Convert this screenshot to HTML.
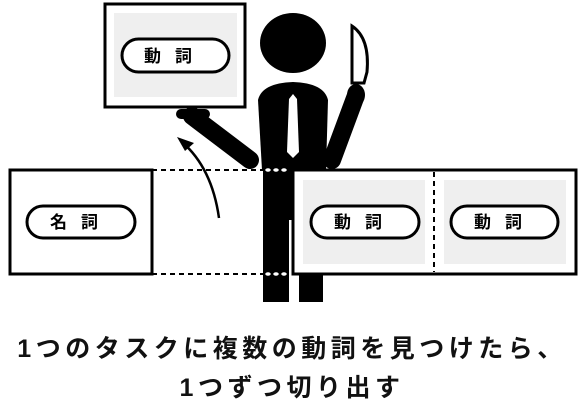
<!DOCTYPE html>
<html><head><meta charset="utf-8"><style>
html,body{margin:0;padding:0;background:#fff}
#wrap{position:relative;width:584px;height:410px;overflow:hidden}
svg{position:absolute;left:0;top:0}
.cap{position:absolute;left:0;width:584px;text-align:center;font-family:"Liberation Sans","Noto Sans CJK JP",sans-serif;font-weight:bold;font-size:25px;line-height:30px;letter-spacing:4.5px;color:#111;white-space:nowrap}
</style></head><body>
<div id="wrap">
<svg width="584" height="410" viewBox="0 0 584 410" font-family="Liberation Sans, Noto Sans CJK JP, sans-serif">
  <g stroke="#000" stroke-width="2" stroke-dasharray="5,4">
    <line x1="152" y1="170" x2="264" y2="170"/>
    <line x1="152" y1="274" x2="264" y2="274"/>
  </g>
  <g fill="#000">
    <ellipse cx="293" cy="43" rx="33" ry="30"/>
    <path d="M258,100 Q262,83 293,82 Q324,83 328,100 L326,170 L262,170 Z"/>
    <line x1="192" y1="116" x2="250" y2="160" stroke="#000" stroke-width="18" stroke-linecap="round"/>
    <line x1="332" y1="160" x2="355" y2="98" stroke="#000" stroke-width="18" stroke-linecap="round"/>
    <rect x="176" y="109" width="34" height="10" rx="5"/>
    <ellipse cx="356" cy="95" rx="9" ry="11"/>
    <path d="M352,83 L352,26 Q370,38 367,72 L364,83 Z" fill="#fff" stroke="#000" stroke-width="3"/>
    <path d="M293,94 L297,99 L299,152 L293,158 L287,152 L289,99 Z" fill="#fff"/>
    <rect x="263" y="168" width="60" height="52"/>
    <rect x="263" y="218" width="26" height="84"/>
    <rect x="299" y="218" width="24" height="84"/>
  </g>
  <g fill="#fff" stroke="#000" stroke-width="1.5">
    <ellipse cx="268" cy="170" rx="3.5" ry="2.5"/><ellipse cx="276" cy="170" rx="3.5" ry="2.5"/><ellipse cx="284" cy="170" rx="3.5" ry="2.5"/>
    <ellipse cx="268" cy="274" rx="3.5" ry="2.5"/><ellipse cx="276" cy="274" rx="3.5" ry="2.5"/><ellipse cx="284" cy="274" rx="3.5" ry="2.5"/>
  </g>
  <g>
    <rect x="105" y="4" width="140" height="103" fill="#fff" stroke="#000" stroke-width="3"/>
    <rect x="114" y="13" width="123" height="84" fill="#efefef"/>
    <rect x="122" y="39" width="107" height="33" rx="16.5" fill="#fff" stroke="#000" stroke-width="3"/>
    <text x="175" y="62" text-anchor="middle" font-size="17" font-weight="bold" letter-spacing="14">動詞</text>
  </g>
  <g>
    <path d="M219,218 Q212,168 182,142" fill="none" stroke="#000" stroke-width="2.5"/>
    <path d="M177,137 L194,143 L185,151 Z" fill="#000"/>
  </g>
  <g>
    <rect x="10" y="170" width="142" height="104" fill="#fff" stroke="#000" stroke-width="3"/>
    <rect x="27" y="206" width="108" height="32" rx="16" fill="#fff" stroke="#000" stroke-width="3"/>
    <text x="81" y="228" text-anchor="middle" font-size="17" font-weight="bold" letter-spacing="14">名詞</text>
  </g>
  <g>
    <rect x="293" y="170" width="283" height="104" fill="#fff" stroke="#000" stroke-width="3"/>
    <rect x="303" y="180" width="122" height="84" fill="#efefef"/>
    <rect x="444" y="180" width="122" height="84" fill="#efefef"/>
    <line x1="434" y1="172" x2="434" y2="272" stroke="#000" stroke-width="2" stroke-dasharray="5,4"/>
    <rect x="311" y="206" width="108" height="32" rx="16" fill="#fff" stroke="#000" stroke-width="3"/>
    <rect x="451" y="206" width="107" height="32" rx="16" fill="#fff" stroke="#000" stroke-width="3"/>
    <text x="365" y="228" text-anchor="middle" font-size="17" font-weight="bold" letter-spacing="14">動詞</text>
    <text x="505" y="228" text-anchor="middle" font-size="17" font-weight="bold" letter-spacing="14">動詞</text>
  </g>
</svg>
<div class="cap" style="top:334px">1つのタスクに複数の動詞を見つけたら、</div>
<div class="cap" style="top:373px">1つずつ切り出す</div>
</div>
</body></html>
